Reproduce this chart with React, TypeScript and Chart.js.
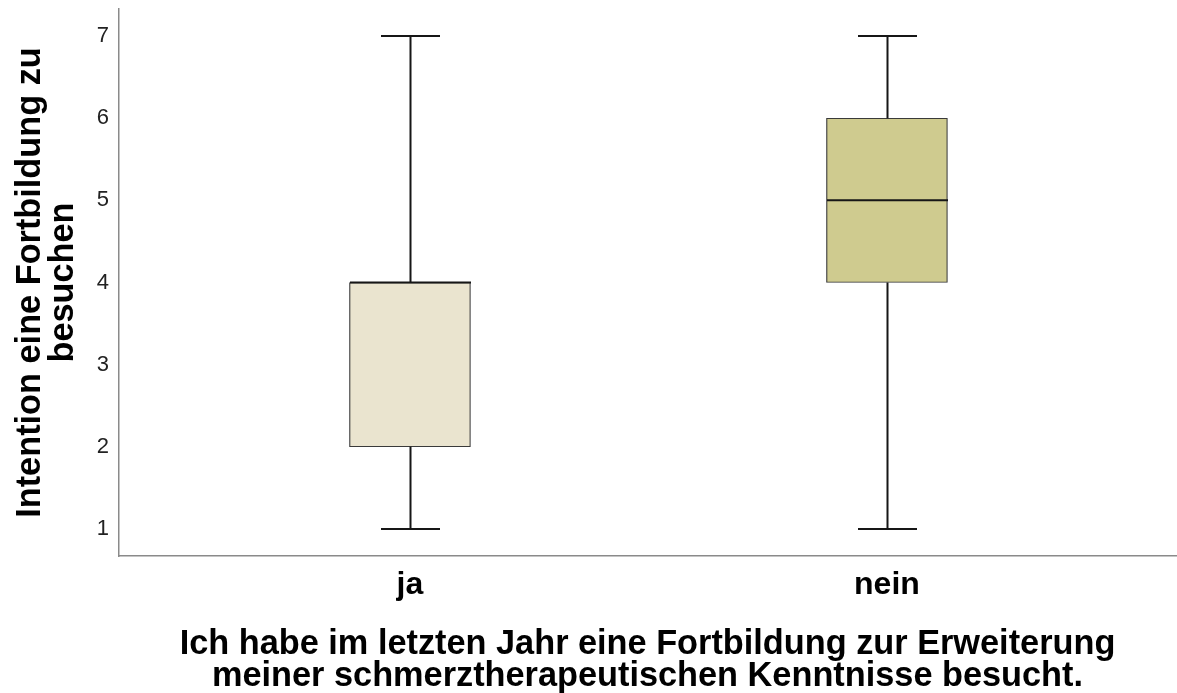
import React, { useEffect, useRef } from 'react';
import { Chart, registerables } from 'chart.js';

Chart.register(...registerables);

// ---- data ----
const categories = ['ja', 'nein'];
const mins = [1, 1];
const q1s = [2, 4];
const medians = [4, 5];
const q3s = [4, 6];
const maxs = [7, 7];
const boxColors = ['#EAE4CF', '#CFCB8F'];
const yTickValues = [1, 2, 3, 4, 5, 6, 7];
const yTitle = ['Intention eine Fortbildung zu', 'besuchen'];
const xTitle = [
  'Ich habe im letzten Jahr eine Fortbildung zur Erweiterung',
  'meiner schmerztherapeutischen Kenntnisse besucht.',
];

// ---- styles ----
const FONT = '"Liberation Sans", Arial, Helvetica, sans-serif';
const BOX_W = 121;
const CAP_W = 59;

const boxplotPlugin = {
  id: 'boxplotWhiskers',
  afterDatasetsDraw(chart: any) {
    const { ctx, scales } = chart;
    const x = scales.x;
    const y = scales.y;
    ctx.save();
    ctx.strokeStyle = '#161616';
    ctx.lineCap = 'butt';
    categories.forEach((_, i) => {
      const cx = Math.round(x.getPixelForValue(i + 1)) + 0.5;
      const yMin = y.getPixelForValue(mins[i]);
      const yQ1 = y.getPixelForValue(q1s[i]);
      const yMed = y.getPixelForValue(medians[i]);
      const yQ3 = y.getPixelForValue(q3s[i]);
      const yMax = y.getPixelForValue(maxs[i]);
      ctx.lineWidth = 2;
      ctx.beginPath();
      ctx.moveTo(cx, yQ3);
      ctx.lineTo(cx, yMax);
      ctx.moveTo(cx, yQ1);
      ctx.lineTo(cx, yMin);
      ctx.moveTo(cx - CAP_W / 2, yMax);
      ctx.lineTo(cx + CAP_W / 2, yMax);
      ctx.moveTo(cx - CAP_W / 2, yMin);
      ctx.lineTo(cx + CAP_W / 2, yMin);
      ctx.stroke();
      ctx.lineWidth = 2;
      ctx.beginPath();
      ctx.moveTo(cx - BOX_W / 2, yMed);
      ctx.lineTo(cx + BOX_W / 2, yMed);
      ctx.stroke();
    });
    ctx.restore();
  },
};

export default function App() {
  const canvasRef = useRef<HTMLCanvasElement | null>(null);

  useEffect(() => {
    const canvas = canvasRef.current;
    if (!canvas) return;
    const chart = new Chart(canvas, {
      type: 'bar',
      data: {
        datasets: [
          {
            data: categories.map((_, i) => ({ x: i + 1, y: [q1s[i], q3s[i]] })) as any,
            backgroundColor: boxColors,
            borderColor: '#3a3a3a',
            borderWidth: 1.2,
            borderSkipped: false,
            barThickness: BOX_W,
          },
        ],
      },
      options: {
        animation: false,
        responsive: true,
        maintainAspectRatio: false,
        layout: { padding: { top: 9, right: 1, left: 0, bottom: 0 } },
        plugins: {
          legend: { display: false },
          tooltip: { enabled: false },
        },
        scales: {
          x: {
            type: 'linear',
            offset: false,
            min: 0.39,
            max: 2.606,
            grid: { display: false, drawTicks: false },
            border: { display: true, color: '#8a8a8a', width: 1.5 },
            afterBuildTicks: (scale: any) => {
              scale.ticks = categories.map((_, i) => ({ value: i + 1 }));
            },
            afterFit: (scale: any) => {
              scale.height = 137;
              scale.paddingLeft = 0;
              scale.paddingRight = 0;
            },
            ticks: {
              autoSkip: false,
              maxRotation: 0,
              padding: 10,
              color: '#000',
              font: { family: FONT, size: 32, weight: 'bold', lineHeight: 1.2 },
              callback: (v: any) => categories[Number(v) - 1] ?? '',
            },
            title: {
              display: true,
              text: xTitle,
              color: '#000',
              font: { family: FONT, size: 34.3, weight: 'bold', lineHeight: 0.92 },
              padding: { top: 0, bottom: 1 },
            },
          },
          y: {
            type: 'linear',
            min: 0.67,
            max: 7.33,
            grid: { display: false, drawTicks: false },
            border: { display: true, color: '#8a8a8a', width: 1.5 },
            afterBuildTicks: (scale: any) => {
              scale.ticks = yTickValues.map((v) => ({ value: v }));
            },
            afterFit: (scale: any) => {
              scale.width = 119;
              scale.paddingTop = 0;
              scale.paddingBottom = 0;
            },
            ticks: {
              padding: 10,
              color: '#222',
              font: { family: FONT, size: 22 },
              callback: (v: any) => String(v),
            },
            title: {
              display: true,
              text: yTitle,
              color: '#000',
              font: { family: FONT, size: 34.3, weight: 'bold', lineHeight: 0.96 },
              padding: { top: 14, bottom: 0 },
            },
          },
        },
      } as any,
      plugins: [boxplotPlugin],
    });
    return () => chart.destroy();
  }, []);

  return (
    <div style={{ position: 'fixed', left: 0, top: 0, width: 1177, height: 693, background: '#fff' }}>
      <canvas ref={canvasRef} />
    </div>
  );
}
